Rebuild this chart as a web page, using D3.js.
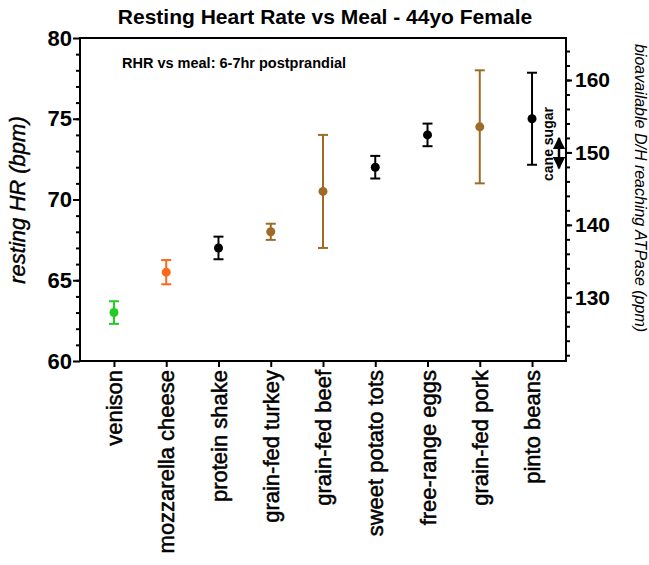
<!DOCTYPE html>
<html>
<head>
<meta charset="utf-8">
<script src="https://cdn.jsdelivr.net/npm/d3@7"></script>
<style>
  body { margin: 0; background: #fff; }
  text { font-family: "Liberation Sans", Arial, sans-serif; }
</style>
</head>
<body>
<div id="chart"></div>
<script>
// meals, in plotted order
var meals = ["venison", "mozzarella cheese", "protein shake", "grain-fed turkey", "grain-fed beef",
             "sweet potato tots", "free-range eggs", "grain-fed pork", "pinto beans"];
// resting HR mean and error (bpm)
var hrMean = [63, 65.5, 67, 68, 70.5, 72, 74, 74.5, 75];
var hrErr = [0.7, 0.75, 0.7, 0.5, 3.5, 0.7, 0.7, 3.5, 2.85];
var meanColors = ["#22cc22", "#ff661a", "#000000", "#9e6b26", "#9e6b26", "#000000", "#000000", "#9e6b26", "#000000"];

var leftTicks = [60, 65, 70, 75, 80];
var rightTicks = [130, 140, 150, 160];
// cane sugar band on the right axis (ppm)
var caneSugar = [147.8, 152];

var data = meals.map(function (m, i) {
  return { meal: m, mean: hrMean[i], err: hrErr[i], color: meanColors[i] };
});

var W = 649, H = 565;
var pLeft = 80, pRight = 566, pTop = 38, pBottom = 361;

var svg = d3.select("#chart").append("svg")
  .attr("width", W).attr("height", H);

var x = d3.scalePoint().domain(meals).range([pLeft, pRight]).padding(0.65);
var y = d3.scaleLinear().domain([60, 80]).range([pBottom, pTop]);
var y2 = d3.scaleLinear().domain([121.2, 165.8]).range([pBottom, pTop]);

// title
svg.append("text")
  .attr("x", 325).attr("y", 24)
  .attr("text-anchor", "middle")
  .style("font-size", "21px").style("font-weight", "bold")
  .text("Resting Heart Rate vs Meal - 44yo Female");

// frame
svg.append("rect")
  .attr("x", pLeft).attr("y", pTop)
  .attr("width", pRight - pLeft).attr("height", pBottom - pTop)
  .attr("fill", "none").attr("stroke", "#000").attr("stroke-width", 2);

// left axis
var gl = svg.append("g").attr("transform", "translate(" + pLeft + ",0)")
  .call(d3.axisLeft(y).tickValues(leftTicks).tickSize(7).tickPadding(1));
gl.selectAll("text").style("font-size", "22px").style("font-weight", "bold")
  .style("font-family", "Liberation Sans, Arial, sans-serif").attr("fill", "#000");
svg.append("g").attr("transform", "translate(" + pLeft + ",0)")
  .call(d3.axisLeft(y).tickValues(d3.range(61, 80)).tickSize(4).tickFormat(""));

// right axis
var gr = svg.append("g").attr("transform", "translate(" + pRight + ",0)")
  .call(d3.axisRight(y2).tickValues(rightTicks).tickSize(6).tickPadding(3));
gr.selectAll("text").style("font-size", "21px").style("font-weight", "bold")
  .style("font-family", "Liberation Sans, Arial, sans-serif").attr("fill", "#000");
svg.append("g").attr("transform", "translate(" + pRight + ",0)")
  .call(d3.axisRight(y2).tickValues(d3.range(122, 166, 2)).tickSize(4).tickFormat(""));

// bottom axis
var gb = svg.append("g").attr("transform", "translate(0," + pBottom + ")")
  .call(d3.axisBottom(x).tickSize(6).tickPadding(3));
gb.selectAll("text")
  .attr("transform", "rotate(-90)")
  .attr("x", -9).attr("y", 0).attr("dy", "0.35em")
  .style("text-anchor", "end")
  .style("font-size", "22px")
  .style("font-family", "Liberation Sans, Arial, sans-serif").attr("fill", "#000")
  .attr("stroke", "#000").attr("stroke-width", 0.5);

svg.selectAll(".domain").remove();
svg.selectAll(".tick line").attr("stroke", "#000").attr("stroke-width", 2);

// axis titles
svg.append("text")
  .attr("transform", "translate(25,200) rotate(-90)")
  .attr("text-anchor", "middle")
  .style("font-size", "22px").style("font-style", "italic")
  .attr("stroke", "#000").attr("stroke-width", 0.4)
  .text("resting HR (bpm)");

svg.append("text")
  .attr("transform", "translate(635,188) rotate(90)")
  .attr("text-anchor", "middle")
  .style("font-size", "16px").style("font-style", "italic")
  .text("bioavailable D/H reaching ATPase (ppm)");

// annotation
svg.append("text")
  .attr("x", 122).attr("y", 68)
  .style("font-size", "14.5px").style("font-weight", "bold")
  .text("RHR vs meal: 6-7hr postprandial");

// error bars
var pts = svg.append("g").selectAll("g").data(data).enter().append("g")
  .attr("stroke", function (d) { return d.color; })
  .attr("fill", function (d) { return d.color; });
pts.append("line")
  .attr("x1", function (d) { return x(d.meal); })
  .attr("x2", function (d) { return x(d.meal); })
  .attr("y1", function (d) { return y(d.mean - d.err); })
  .attr("y2", function (d) { return y(d.mean + d.err); })
  .attr("stroke-width", 2);
pts.selectAll(".cap").data(function (d) {
    return [{ m: d.meal, v: d.mean - d.err }, { m: d.meal, v: d.mean + d.err }];
  }).enter().append("line")
  .attr("x1", function (d) { return x(d.m) - 5; })
  .attr("x2", function (d) { return x(d.m) + 5; })
  .attr("y1", function (d) { return y(d.v); })
  .attr("y2", function (d) { return y(d.v); })
  .attr("stroke-width", 2);
pts.append("circle")
  .attr("cx", function (d) { return x(d.meal); })
  .attr("cy", function (d) { return y(d.mean); })
  .attr("r", 4.5).attr("stroke", "none");

// cane sugar double arrow
var defs = svg.append("defs");
defs.append("marker").attr("id", "ah")
  .attr("viewBox", "0 0 10 10").attr("refX", 9).attr("refY", 5)
  .attr("markerWidth", 5).attr("markerHeight", 5).attr("orient", "auto-start-reverse")
  .append("path").attr("d", "M0,0 L10,5 L0,10 Z").attr("fill", "#000");
svg.append("line")
  .attr("x1", 559).attr("x2", 559)
  .attr("y1", y2(caneSugar[0])).attr("y2", y2(caneSugar[1]))
  .attr("stroke", "#000").attr("stroke-width", 2.5)
  .attr("marker-start", "url(#ah)").attr("marker-end", "url(#ah)");
svg.append("text")
  .attr("transform", "translate(553,144) rotate(-90)")
  .attr("text-anchor", "middle")
  .style("font-size", "14px").style("font-weight", "bold")
  .text("cane sugar");
</script>
</body>
</html>
